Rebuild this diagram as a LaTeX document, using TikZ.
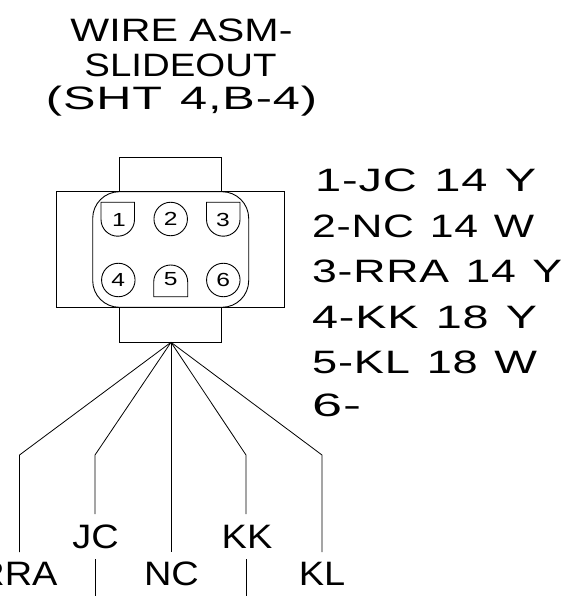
\documentclass[tikz,border=0pt]{standalone}
\usepackage{fontspec}
\setmainfont{Liberation Sans}
\newfontfamily\widefont[FakeStretch=1.12]{Liberation Sans}
\newfontfamily\listfont[FakeStretch=1.4,LetterSpace=2.5,WordSpace=1.25]{Liberation Sans}
\newfontfamily\ttlA[FakeStretch=1.29]{Liberation Sans}
\newfontfamily\ttlB[FakeStretch=1.2]{Liberation Sans}
\newfontfamily\pinfont[FakeStretch=1.3]{Liberation Sans}
\newcommand{\fitw}[2]{\resizebox{#1bp}{\height}{#2}}
\tikzset{
  ln/.style={draw=black,line width=0.9pt},
  wire/.style={draw=black,line width=0.8pt},
  big/.style={inner sep=0pt,anchor=base,font=\widefont\fontsize{34}{34}\selectfont,text=black},
  ttla/.style={inner sep=0pt,anchor=base,font=\ttlA\fontsize{32.5}{32}\selectfont,text=black},
  ttlb/.style={inner sep=0pt,anchor=base,font=\ttlB\fontsize{32.5}{32}\selectfont,text=black},
  ttlc/.style={inner sep=0pt,anchor=base,font=\listfont\fontsize{32.5}{32}\selectfont,text=black},
  lst/.style={inner sep=0pt,anchor=base west,font=\listfont\fontsize{32.5}{32}\selectfont,text=black},
  pin/.style={inner sep=0pt,font=\pinfont\fontsize{19}{19}\selectfont,text=black},
  roundpin/.style={ln,circle,minimum size=33.5bp,inner sep=0pt},
}
\begin{document}
\begin{tikzpicture}[x=1bp,y=-1bp]
\useasboundingbox (0,0) rectangle (562,596);
\clip (0,0) rectangle (562,596);
% title
\node[ttla] (t1) at (181.5,41.7) {\fitw{222}{WIRE ASM-}};
\node[ttlb] (t2) at (180.5,77) {\fitw{192}{SLIDEOUT}};
\node[ttlc] (t3) at (181.5,109.5) {\fitw{271}{(SHT 4,B-4)}};
% housing
\draw[ln] (119.3,191.7) -- (119.3,157) -- (221.7,157) -- (221.7,191.7);
\draw[ln] (56.7,191.7) rectangle (284.3,307.3);
\draw[ln,rounded corners=26.7bp] (92.7,191.7) rectangle (248.7,307.3);
\draw[ln] (119.3,307.3) -- (119.3,342.3) -- (221.7,342.3) -- (221.7,307.3);
% pins
\draw[ln] (101,202.3) -- (134.5,202.3) -- (134.5,219.5) arc[start angle=0,end angle=180,x radius=16.75,y radius=16.7] -- cycle;
\draw[ln] (206.5,202.3) -- (240,202.3) -- (240,219.5) arc[start angle=0,end angle=180,x radius=16.75,y radius=16.7] -- cycle;
\draw[ln] (153.7,296.7) -- (187.7,296.7) -- (187.7,282) arc[start angle=0,end angle=180,x radius=17,y radius=-17] -- cycle;
\node[roundpin] (p2) at (170.7,219) {};
\node[roundpin] (p4) at (118.3,280) {};
\node[roundpin] (p6) at (223.3,280) {};
\node[pin] at (119,219.5) {1};
\node[pin] at (p2) {2};
\node[pin] at (223,219.5) {3};
\node[pin] at (p4) {4};
\node[pin] at (170.7,279.5) {5};
\node[pin] at (p6) {6};
% wires
\coordinate (hub) at (171,342.3);
\coordinate (a1) at (19.5,455);
\coordinate (a2) at (95,455);
\coordinate (a4) at (246,455);
\coordinate (a5) at (322,455);
\draw[wire] (hub) -- (a1) -- (19.5,552);
\draw[wire] (hub) -- (a2) -- (95,514);
\draw[wire] (hub) -- (171,552);
\draw[wire] (hub) -- (a4) -- (246,514);
\draw[wire] (hub) -- (a5) -- (322,552);
\draw[wire] (95,559) -- (95,596);
\draw[wire] (246,559) -- (246,596);
% wire labels
\node[big] (jc) at (95.5,548) {JC};
\node[big] (kk) at (247,548) {KK};
\node[big] (rra) at (17.5,585) {RRA};
\node[big] (nc) at (171.5,585) {NC};
\node[big] (kl) at (322,585) {KL};
% list
\node[lst] (l1) at (315,191.7) {\fitw{221}{1-JC 14 Y}};
\node[lst] (l2) at (312,237) {\fitw{222}{2-NC 14 W}};
\node[lst] (l3) at (312,282) {\fitw{250}{3-RRA 14 Y}};
\node[lst] (l4) at (312,328) {\fitw{225}{4-KK 18 Y}};
\node[lst] (l5) at (312,373) {\fitw{225}{5-KL 18 W}};
\node[lst] (l6) at (312,416) {\fitw{49}{6-}};
\end{tikzpicture}
\end{document}
